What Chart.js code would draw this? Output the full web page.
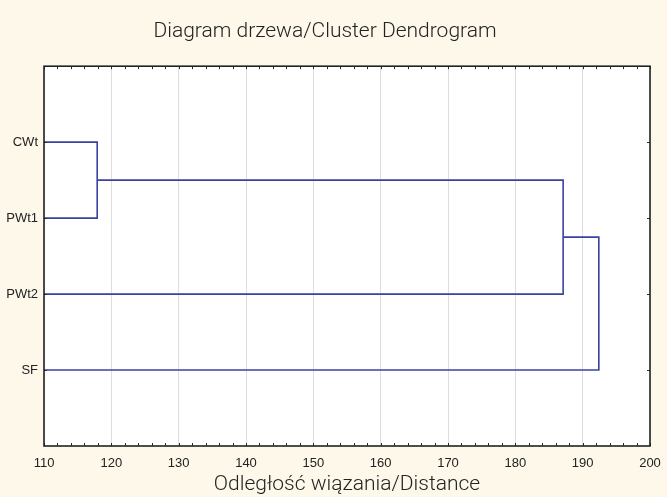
<!DOCTYPE html>
<html>
<head>
<meta charset="utf-8">
<script src="https://cdn.jsdelivr.net/npm/chart.js@4/dist/chart.umd.min.js"></script>
<style>
  html, body { margin: 0; padding: 0; background: #fdf8e9; }
  #wrap { width: 667px; height: 497px; }
</style>
</head>
<body>
<div id="wrap"><canvas id="c" width="667" height="497"></canvas></div>
<script>
// ---- data ----
const leaves = ['CWt', 'PWt1', 'PWt2', 'SF'];           // order top to bottom
const mergeLeft = ['CWt', 'C1', 'C2'];                  // linkage: left member
const mergeRight = ['PWt1', 'PWt2', 'SF'];              // linkage: right member
const mergeNames = ['C1', 'C2', 'C3'];
const mergeHeights = [117.9, 187.1, 192.4];             // linkage distance
const xTicks = [110, 120, 130, 140, 150, 160, 170, 180, 190, 200];
const xMin = 110, xMax = 200;

// ---- build dendrogram segments from linkage ----
const node = {};
leaves.forEach((n, i) => { node[n] = { y: i + 1, h: xMin }; });
const linkData = [];
mergeNames.forEach((name, k) => {
  const a = node[mergeLeft[k]], b = node[mergeRight[k]], h = mergeHeights[k];
  linkData.push([
    { x: a.h, y: a.y }, { x: h, y: a.y }, { x: h, y: b.y }, { x: b.h, y: b.y }
  ]);
  node[name] = { y: (a.y + b.y) / 2, h: h };
});

const lineColor = '#3b43a0';
const datasets = linkData.map(pts => ({
  data: pts, showLine: true, borderColor: lineColor, borderWidth: 1.6,
  pointRadius: 0, fill: false, tension: 0
}));

const frame = {
  id: 'frame',
  afterDraw(chart) {
    const { ctx, chartArea: a, scales } = chart;
    ctx.save();
    ctx.strokeStyle = '#2a2a2a';
    ctx.lineWidth = 1;
    for (let v = xMin; v <= xMax; v += 2) {
      const x = Math.round(scales.x.getPixelForValue(v)) + 0.5;
      ctx.beginPath();
      ctx.moveTo(x, a.top); ctx.lineTo(x, a.top + 3);
      ctx.moveTo(x, a.bottom); ctx.lineTo(x, a.bottom - 3);
      ctx.stroke();
    }
    for (let i = 1; i <= leaves.length; i++) {
      const y = Math.round(scales.y.getPixelForValue(i)) + 0.5;
      ctx.beginPath();
      ctx.moveTo(a.right, y); ctx.lineTo(a.right - 3, y);
      ctx.moveTo(a.left, y); ctx.lineTo(a.left + 3, y);
      ctx.stroke();
    }
    ctx.lineWidth = 1.6;
    ctx.strokeStyle = '#222';
    ctx.strokeRect(a.left, a.top, a.right - a.left, a.bottom - a.top);
    ctx.restore();
  },
  beforeDraw(chart) {
    const { ctx, chartArea: a } = chart;
    ctx.save();
    ctx.fillStyle = '#fdf8e9';
    ctx.fillRect(0, 0, chart.width, chart.height);
    ctx.fillStyle = '#ffffff';
    ctx.fillRect(a.left, a.top, a.right - a.left, a.bottom - a.top);
    ctx.restore();
  }
};

new Chart(document.getElementById('c'), {
  type: 'scatter',
  data: { datasets },
  options: {
    responsive: false,
    animation: false,
    layout: { padding: { left: 0, right: 17, top: 0, bottom: 0 } },
    plugins: {
      legend: { display: false },
      tooltip: { enabled: false },
      title: {
        display: true,
        text: 'Diagram drzewa/Cluster Dendrogram',
        color: '#222',
        font: { family: 'Roboto', size: 21, weight: '300' },
        padding: { top: 19, bottom: 22 }
      }
    },
    scales: {
      x: {
        type: 'linear', min: xMin, max: xMax,
        afterBuildTicks(s) { s.ticks = xTicks.map(v => ({ value: v })); },
        ticks: { color: '#222', font: { family: 'Liberation Sans', size: 13 }, padding: 10, maxRotation: 0 },
        grid: { color: '#dedede', drawTicks: false, lineWidth: 1 },
        border: { display: false },
        title: {
          display: true, text: 'Odległość wiązania/Distance', color: '#222',
          font: { family: 'Roboto', size: 21, weight: '300' }, padding: { top: 0, bottom: 0 }
        },
        afterFit(s) { s.height = 51; s.paddingLeft = 0; s.paddingRight = 0; }
      },
      y: {
        type: 'linear', min: 0, max: 5, reverse: true,
        afterBuildTicks(s) { s.ticks = leaves.map((_, i) => ({ value: i + 1 })); },
        ticks: {
          color: '#222', font: { family: 'Liberation Sans', size: 13 }, padding: 6,
          callback: v => leaves[v - 1] || ''
        },
        grid: { display: false, drawTicks: false },
        border: { display: false },
        afterFit(s) { s.width = 44; s.paddingTop = 0; s.paddingBottom = 0; }
      }
    }
  },
  plugins: [frame]
});
</script>
</body>
</html>
